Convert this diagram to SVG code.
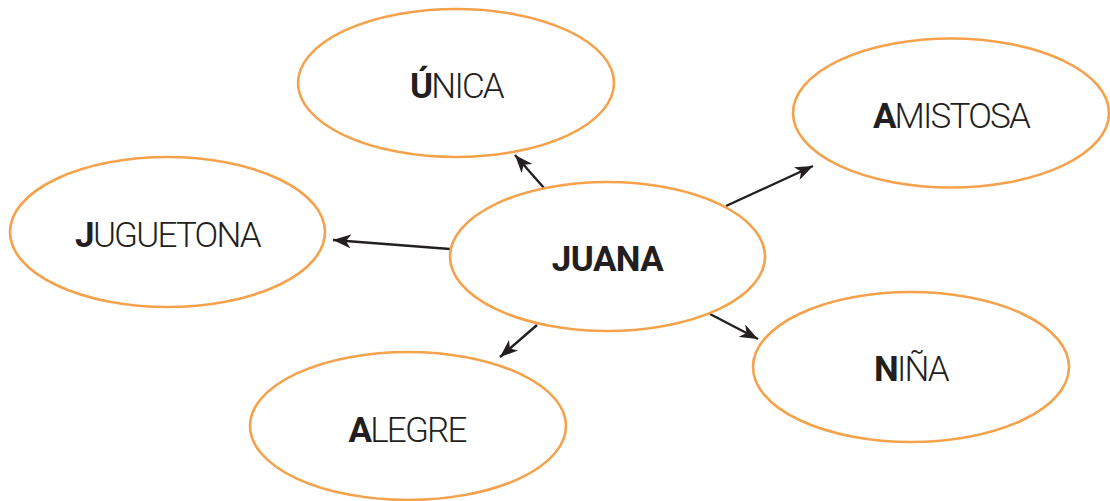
<svg xmlns="http://www.w3.org/2000/svg" width="1110" height="501" viewBox="0 0 1110 501">
<style>
.node ellipse{fill:#fff;stroke:#F5A24C;stroke-width:2.6}
text{font-family:Roboto,"Liberation Sans",sans-serif;font-size:35px;font-weight:300;fill:#231F20;letter-spacing:-1.8px}
.b{font-weight:700}
.conn line{stroke:#231F20;stroke-width:2.4}
</style>
<defs>
<marker id="ah" markerUnits="userSpaceOnUse" markerWidth="20" markerHeight="14" refX="18" refY="7" orient="auto" viewBox="0 0 20 14">
<path d="M0,0 L18,7 L0,14 L5,7 z" fill="#231F20"/>
</marker>
</defs>
<g class="conn">
<line x1="544" y1="188" x2="515" y2="155" marker-end="url(#ah)"/>
<line x1="726" y1="206" x2="813" y2="166" marker-end="url(#ah)"/>
<line x1="450" y1="249" x2="333" y2="240" marker-end="url(#ah)"/>
<line x1="710" y1="314" x2="758" y2="339" marker-end="url(#ah)"/>
<line x1="537" y1="325" x2="500" y2="357" marker-end="url(#ah)"/>
</g>
<g id="unica" class="node"><ellipse cx="456" cy="83" rx="158" ry="74"/><text x="456.5" y="98" text-anchor="middle"><tspan class="b">Ú</tspan>NICA</text></g>
<g id="amistosa" class="node"><ellipse cx="951" cy="113" rx="158" ry="74.5"/><text x="951" y="128" text-anchor="middle"><tspan class="b">A</tspan>MISTOSA</text></g>
<g id="juguetona" class="node"><ellipse cx="167.5" cy="232" rx="157.5" ry="75"/><text x="167.5" y="247" text-anchor="middle"><tspan class="b">J</tspan>UGUETONA</text></g>
<g id="juana" class="node"><ellipse cx="607.5" cy="256.5" rx="157.5" ry="74.5"/><text x="607.5" y="271" class="b" text-anchor="middle" style="letter-spacing:-0.6px">JUANA</text></g>
<g id="nina" class="node"><ellipse cx="911" cy="367" rx="158" ry="75"/><text x="911" y="381" text-anchor="middle"><tspan class="b">N</tspan>IÑA</text></g>
<g id="alegre" class="node"><ellipse cx="408" cy="426" rx="158" ry="74"/><text x="407" y="442" text-anchor="middle"><tspan class="b">A</tspan>LEGRE</text></g>
</svg>
